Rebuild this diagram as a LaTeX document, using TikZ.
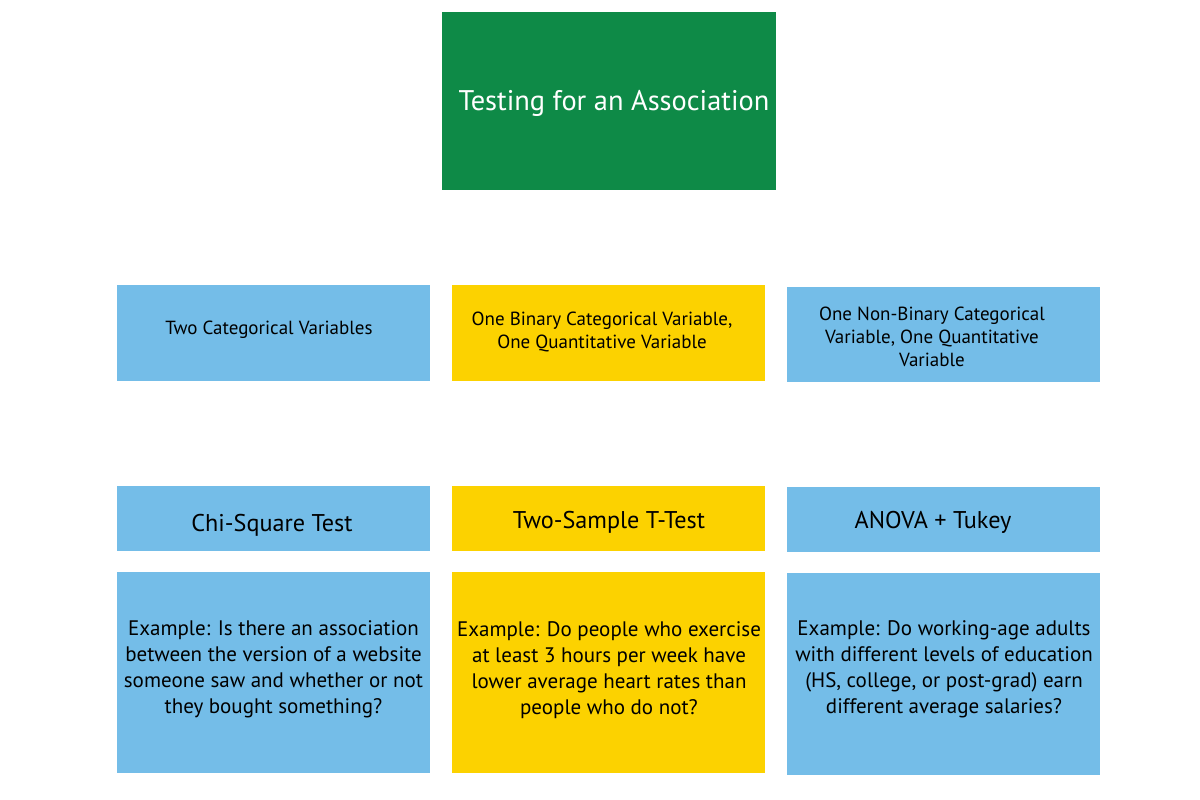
\documentclass[tikz,border=0pt]{standalone}
\usepackage{fontspec}
\setmainfont{PT Sans}
\definecolor{tgreen}{HTML}{0E8A47}
\definecolor{tblue}{HTML}{74BDE8}
\definecolor{tyellow}{HTML}{FCD200}
\begin{document}
\begin{tikzpicture}[x=1pt,y=-1pt,
  box/.style={draw=none,inner sep=0pt,minimum width=313pt},
  bluebox/.style={box,fill=tblue},
  yellowbox/.style={box,fill=tyellow},
  rowtwo/.style={align=center,font=\fontsize{19}{23}\selectfont,text=black},
  rowthree/.style={align=center,font=\fontsize{24.2}{26}\selectfont,text=black},
  rowfour/.style={align=center,font=\fontsize{21}{26}\selectfont,text=black}]
\useasboundingbox (0,0) rectangle (1200,800);
% title
\node[box,fill=tgreen,minimum width=334pt,minimum height=178pt] (title) at (609,101) {};
\node[font=\fontsize{28.4}{32}\selectfont,text=white] (titletext) at (614,103.5) {Testing for an Association};
% row 2
\node[bluebox,minimum height=96pt] (cat2) at (273.5,333) {};
\node[yellowbox,minimum height=96pt] (bincat) at (608.5,333) {};
\node[bluebox,minimum height=95pt] (nonbin) at (943.5,334.5) {};
\node[rowtwo] (cat2t) at (269,330) {Two Categorical Variables};
\node[rowtwo] (bincatt) at (602,331.5) {One Binary Categorical Variable,\\One Quantitative Variable};
\node[rowtwo] (nonbint) at (932,337) {One Non-Binary Categorical\\Variable, One Quantitative\\Variable};
% row 3
\node[bluebox,minimum height=65pt] (chi) at (273.5,518.5) {};
\node[yellowbox,minimum height=65pt] (ttest) at (608.5,518.5) {};
\node[bluebox,minimum height=65pt] (anova) at (943.5,519.5) {};
\node[rowthree] (chit) at (272,525) {Chi-Square Test};
\node[rowthree] (ttestt) at (609,522) {Two-Sample T-Test};
\node[rowthree] (anovat) at (933,522) {ANOVA + Tukey};
% row 4
\node[bluebox,minimum height=201pt] (ex1) at (273.5,672.5) {};
\node[yellowbox,minimum height=201pt] (ex2) at (608.5,672.5) {};
\node[bluebox,minimum height=202pt] (ex3) at (943.5,674) {};
\node[rowfour] (ex1t) at (273.5,669) {Example: Is there an association\\between the version of a website\\someone saw and whether or not\\they bought something?};
\node[rowfour] (ex2t) at (609,670) {Example: Do people who exercise\\at least 3 hours per week have\\lower average heart rates than\\people who do not?};
\node[rowfour] (ex3t) at (944,669) {Example: Do working-age adults\\with different levels of education\\(HS, college, or post-grad) earn\\different average salaries?};
\end{tikzpicture}
\end{document}
